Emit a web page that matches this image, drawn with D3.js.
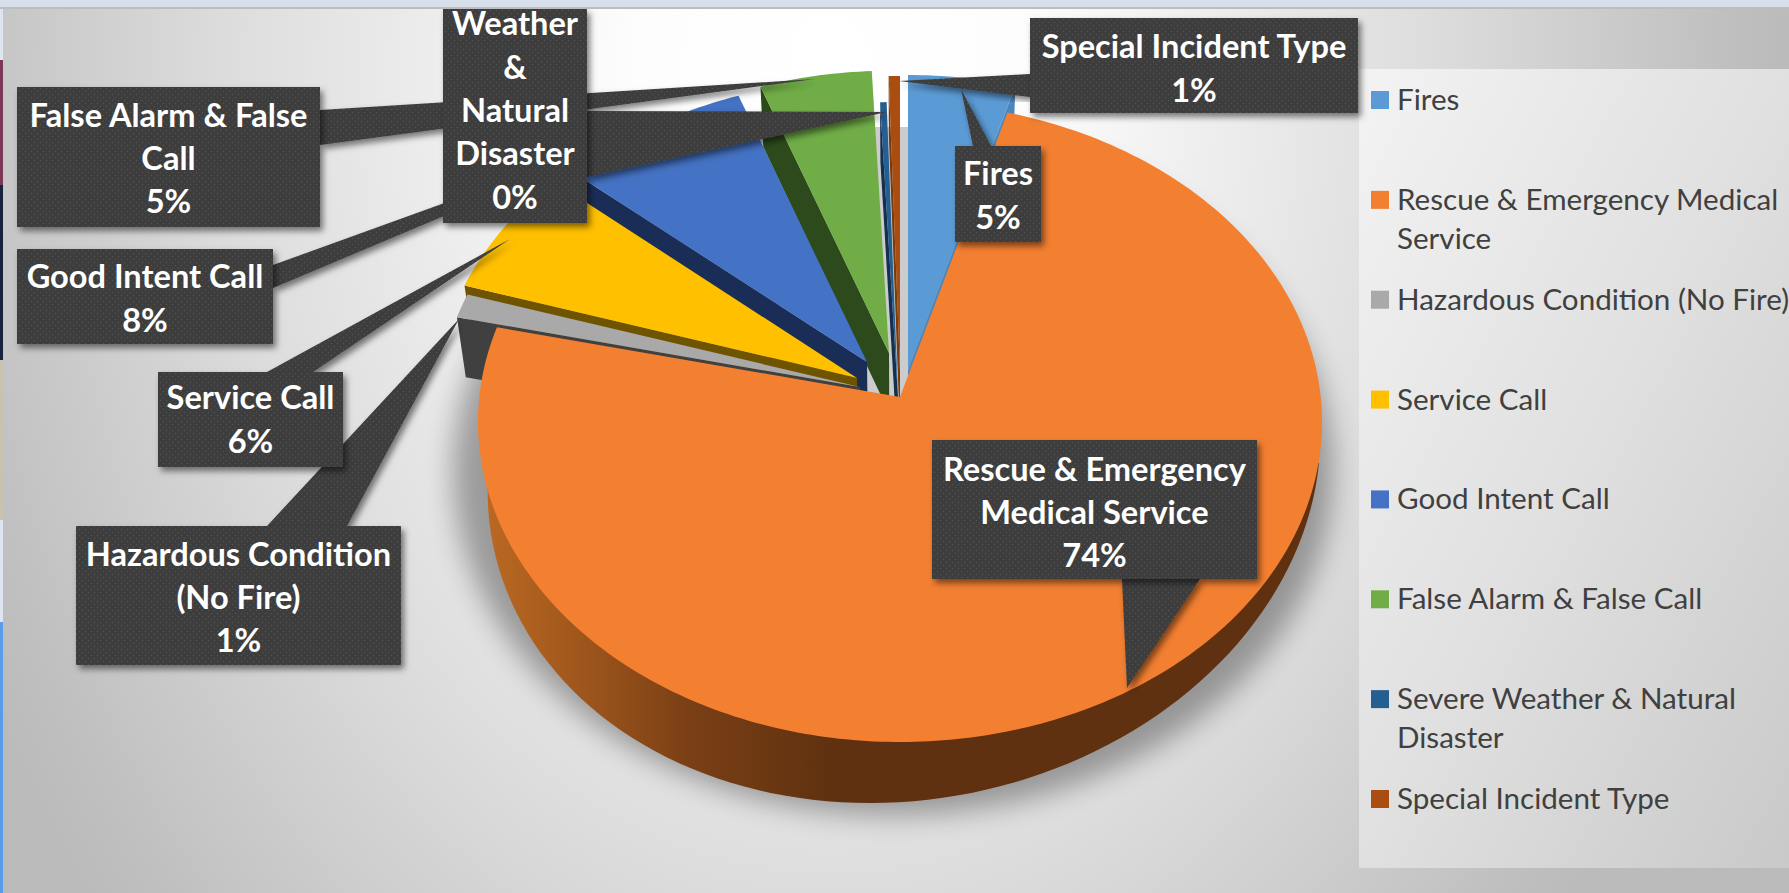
<!DOCTYPE html>
<html><head><meta charset="utf-8">
<script src="https://d3js.org/d3.v7.min.js"></script>
<style>html,body{margin:0;padding:0;background:#fff;overflow:hidden}svg{display:block}</style>
</head><body><div id="chart"></div>
<script>
// ---- data ----
const categories = ["Fires","Rescue & Emergency Medical Service","Hazardous Condition (No Fire)","Service Call","Good Intent Call","False Alarm & False Call","Severe Weather & Natural Disaster","Special Incident Type"];
const values = [4.9,74.2,1.05,5.7,8.05,5.28,0.3,0.52];
const colors = ["#5B9BD5","#F37F31","#A9A9A9","#FFC000","#4472C4","#70AD47","#255E91","#A94E10"];
const wallColors = ["#4C86BA","#5F3110","#404040","#6F5400","#1A2D57","#2C4A1C","#14304F","#7A3A0B"];
const legendLines = [["Fires"],["Rescue & Emergency Medical","Service"],["Hazardous Condition (No Fire)"],["Service Call"],["Good Intent Call"],["False Alarm & False Call"],["Severe Weather & Natural","Disaster"],["Special Incident Type"]];
const calloutLines = [["Fires"],["Rescue & Emergency","Medical Service"],["Hazardous Condition","(No Fire)"],["Service Call"],["Good Intent Call"],["False Alarm & False","Call"],["Weather","&","Natural","Disaster"],["Special Incident Type"]];

// ---- layout ----
const W=1789,H=893;
const cx=900,cy=422,rx=422,ry=320,apexRise=25,depth=60;
const explodeX=[8,0,-40,-43,-33,-11,-2,0];
const explodeY=[-27,0,-10,-19,-35,-44,0,-26];
const farScale=[1,1,1,1,.96,.96,1,1];
const drawOrder=[7,6,5,4,3,2,0,1];
// callout boxes [x0,y0,x1,y1] and pointer triangles
const boxes=[[955,146,1041,242],[932,440,1257,579],[76,526,401,665],[158,372,343,467],[17,249,273,344],[17,87,320,227],[443,9,587,223],[1030,18,1358,113]];
const pointers=[[[973,146],[991,146],[961,89]],[[1122,579],[1200,579],[1127,688]],[[267,526],[347,526],[459,319]],[[267,372],[313,372],[510,239]],[[273,265],[273,288],[660,125]],[[320,110],[320,145],[815,79]],[[587,111],[587,177],[887,112]],[[1030,74],[1030,97],[899,81]]];
const textCentre=[196,513,598,420,299,159,111,69];
const calloutOrder=[2,3,4,5,6,7,0,1];

const svg=d3.select("#chart").append("svg").attr("width",W).attr("height",H).attr("viewBox",`0 0 ${W} ${H}`);
const defs=svg.append("defs");

// gradients
const bg=defs.append("radialGradient").attr("id","bg").attr("gradientUnits","userSpaceOnUse")
  .attr("cx",0).attr("cy",0).attr("r",1).attr("gradientTransform","translate(830,70) scale(950,1300)");
[[0,"#ffffff"],[.2,"#fdfdfd"],[.63,"#dddddd"],[.95,"#bfbfbf"],[1,"#bbbbbb"]].forEach(s=>bg.append("stop").attr("offset",s[0]).attr("stop-color",s[1]));
const lg=defs.append("linearGradient").attr("id","legendBg").attr("x1",0).attr("y1",0).attr("x2",1).attr("y2",1);
[[0,"#f3f3f3"],[.5,"#e0e0e0"],[1,"#c9c9c9"]].forEach(s=>lg.append("stop").attr("offset",s[0]).attr("stop-color",s[1]));
const sg=defs.append("linearGradient").attr("id","sideGrad").attr("gradientUnits","userSpaceOnUse").attr("x1",480).attr("y1",0).attr("x2",1320).attr("y2",0);
[[0,"#BC6A22"],[.12,"#9F561C"],[.25,"#7A3F15"],[.42,"#5F3110"],[1,"#5F3110"]].forEach(s=>sg.append("stop").attr("offset",s[0]).attr("stop-color",s[1]));
const pat=defs.append("pattern").attr("id","dots").attr("width",6).attr("height",6).attr("patternUnits","userSpaceOnUse");
pat.append("rect").attr("width",6).attr("height",6).attr("fill","#3c3c3c");
[[1.5,1.5],[4.5,4.5]].forEach(p=>pat.append("circle").attr("cx",p[0]).attr("cy",p[1]).attr("r",.8).attr("fill","#525252"));
const blur=defs.append("filter").attr("id","pieShadow").attr("x","-20%").attr("y","-20%").attr("width","140%").attr("height","140%");
blur.append("feGaussianBlur").attr("stdDeviation",14);
const ds=defs.append("filter").attr("id","boxShadow").attr("x","-20%").attr("y","-20%").attr("width","140%").attr("height","140%");
ds.append("feDropShadow").attr("dx",3).attr("dy",4).attr("stdDeviation",3).attr("flood-color","#000").attr("flood-opacity",.5);
defs.append("clipPath").attr("id","shadowClip").append("rect").attr("x",0).attr("y",127).attr("width",W).attr("height",H);

// background
svg.append("rect").attr("width",W).attr("height",H).attr("fill","url(#bg)");
svg.append("rect").attr("x",1359).attr("y",69).attr("width",430).attr("height",799).attr("fill","url(#legendBg)");

// pie shadow and floor
svg.append("g").attr("clip-path","url(#shadowClip)").append("ellipse")
  .attr("cx",893).attr("cy",470).attr("rx",440).attr("ry",345).attr("fill","#000").attr("opacity",.33).attr("filter","url(#pieShadow)");
svg.append("rect").attr("x",780).attr("y",127).attr("width",130).attr("height",270).attr("fill","#cccccc");

// pie geometry
const pie=d3.pie().value(d=>d).sort(null);
const arcs=pie(values);
const warp=t=>t-(5*Math.PI/180)*Math.sin(2*t);
const rimPoint=(i,t)=>{const a=warp(t),k=farScale[i];
  return [cx+explodeX[i]+rx*k*Math.sin(a),cy+explodeY[i]-ry*k*Math.cos(a)];};
const apex=i=>[cx+explodeX[i],cy+explodeY[i]-apexRise];
const drop=p=>[p[0]+(cx-p[0])*.02,p[1]+depth];
const line=d3.line();

// rescue outer wall
const sideCurve=d3.range(90,273,2).map(deg=>{const a=deg*Math.PI/180;
  const y=463-340*Math.cos(a);
  return [870+.1*(803-y)+415*Math.sin(a),y];});
const pies=svg.append("g");

drawOrder.forEach(i=>{
  const a=arcs[i];
  const mid=(warp(a.startAngle)+warp(a.endAngle))/2;
  const edge=mid<Math.PI?a.endAngle:a.startAngle;
  if(i===1){
    pies.append("path").attr("d",line(sideCurve)+"Z").attr("fill","url(#sideGrad)");
  }else{
    const e=rimPoint(i,edge),ap=apex(i);
    pies.append("path").attr("d",line([ap,e,drop(e),drop(ap)])+"Z").attr("fill",wallColors[i]);
  }
  const n=Math.max(2,Math.ceil((a.endAngle-a.startAngle)/0.02));
  const rim=d3.range(n+1).map(j=>rimPoint(i,a.startAngle+(a.endAngle-a.startAngle)*j/n));
  pies.append("path").attr("d",line([apex(i),...rim])+"Z").attr("fill",colors[i]);
});

// callouts
const pct=d3.format(".0%"),total=d3.sum(values);
const call=svg.append("g").attr("font-family","Lato, sans-serif").attr("font-weight",700).attr("font-size",32.6).attr("fill","#fff");
const lineGap=43.4;
calloutOrder.forEach(i=>{
  const g=call.append("g");
  g.append("path").attr("d",line(pointers[i])+"Z").attr("fill","url(#dots)").attr("filter","url(#boxShadow)");
});
calloutOrder.forEach(i=>{
  const b=boxes[i],g=call.append("g");
  g.append("rect").attr("x",b[0]).attr("y",b[1]).attr("width",b[2]-b[0]).attr("height",b[3]-b[1]).attr("fill","url(#dots)").attr("filter","url(#boxShadow)");
  const lines=[...calloutLines[i],pct(values[i]/total)];
  const mx=(b[0]+b[2])/2;
  lines.forEach((t,k)=>g.append("text").attr("x",mx).attr("y",textCentre[i]+(k-(lines.length-1)/2)*lineGap+11).attr("text-anchor","middle").text(t));
});

// legend
const ly=d3.scalePoint().domain(categories).range([100,799]);
const leg=svg.append("g").attr("font-family","Lato, sans-serif").attr("font-size",29.6).attr("fill","#404040");
categories.forEach((c,i)=>{
  const y=ly(c);
  leg.append("rect").attr("x",1371).attr("y",y-9).attr("width",18).attr("height",18).attr("fill",colors[i]);
  legendLines[i].forEach((t,k)=>leg.append("text").attr("x",1397).attr("y",y+10+k*39).text(t));
});

// window edges
svg.append("rect").attr("width",W).attr("height",7).attr("fill","#D6DFEA");
svg.append("rect").attr("y",7).attr("width",W).attr("height",2).attr("fill","#BDBDBD");
[[9,60,"#DDE5EF"],[60,185,"#7D3558"],[185,360,"#16233F"],[360,520,"#C9C2AE"],[520,622,"#DDE5F0"],[622,893,"#5B9BEC"]].forEach(s=>
  svg.append("rect").attr("x",0).attr("y",s[0]).attr("width",3).attr("height",s[1]-s[0]).attr("fill",s[2]));
</script></body></html>
